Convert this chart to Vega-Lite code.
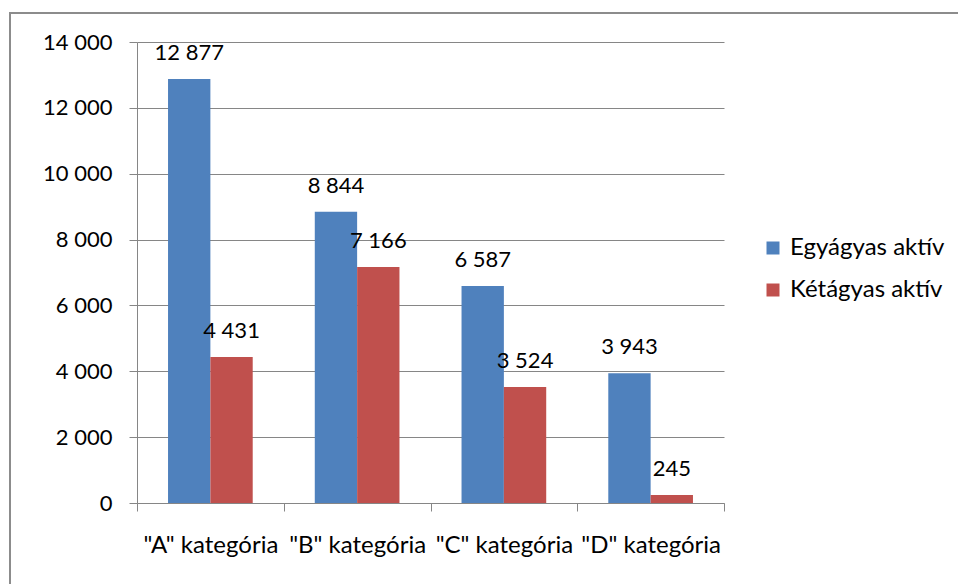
{
  "$schema": "https://vega.github.io/schema/vega-lite/v6.json",
  "width": 949,
  "height": 572,
  "autosize": {"type": "none"},
  "padding": {"left": 10, "top": 13, "right": -1, "bottom": -1},
  "background": "white",
  "config": {
    "locale": {
      "number": {"decimal": ",", "thousands": " ", "grouping": [3], "currency": ["", " Ft"]}
    },
    "font": "Lato",
    "view": {"stroke": "#8c8c8c", "strokeWidth": 2},
    "axis": {
      "domainColor": "#868686",
      "tickColor": "#868686",
      "gridColor": "#868686",
      "labelColor": "#000000",
      "labelFont": "Lato",
      "labelFontSize": 22
    }
  },
  "data": {
    "values": [
      {"kategoria": "\"A\" kategória", "tipus": "Egyágyas aktív", "ertek": 12877},
      {"kategoria": "\"A\" kategória", "tipus": "Kétágyas aktív", "ertek": 4431},
      {"kategoria": "\"B\" kategória", "tipus": "Egyágyas aktív", "ertek": 8844},
      {"kategoria": "\"B\" kategória", "tipus": "Kétágyas aktív", "ertek": 7166},
      {"kategoria": "\"C\" kategória", "tipus": "Egyágyas aktív", "ertek": 6587},
      {"kategoria": "\"C\" kategória", "tipus": "Kétágyas aktív", "ertek": 3524},
      {"kategoria": "\"D\" kategória", "tipus": "Egyágyas aktív", "ertek": 3943},
      {"kategoria": "\"D\" kategória", "tipus": "Kétágyas aktív", "ertek": 245}
    ]
  },
  "encoding": {
    "x": {
      "field": "kategoria",
      "type": "nominal",
      "sort": null,
      "scale": {"range": [127, 714], "paddingInner": 0, "paddingOuter": 0},
      "axis": {
        "title": null,
        "orient": "bottom",
        "offset": -82,
        "tickBand": "extent",
        "tickSize": 8,
        "labelAngle": 0,
        "labelFontSize": 24,
        "labelBaseline": "alphabetic",
        "labelPadding": 41,
        "grid": false
      }
    },
    "xOffset": {
      "field": "tipus",
      "type": "nominal",
      "sort": ["Egyágyas aktív", "Kétágyas aktív"],
      "scale": {"paddingOuter": 0.733, "paddingInner": 0}
    },
    "y": {
      "field": "ertek",
      "type": "quantitative",
      "scale": {"domain": [0, 14000], "range": [490, 29], "nice": false},
      "axis": {
        "title": null,
        "offset": -127,
        "values": [0, 2000, 4000, 6000, 8000, 10000, 12000, 14000],
        "format": ",d",
        "tickSize": 8,
        "labelPadding": 17,
        "grid": true,
        "domain": true
      }
    }
  },
  "layer": [
    {
      "mark": {"type": "bar"},
      "encoding": {
        "color": {
          "field": "tipus",
          "type": "nominal",
          "scale": {"domain": ["Egyágyas aktív", "Kétágyas aktív"], "range": ["#4F81BD", "#C0504D"]},
          "legend": {
            "orient": "none",
            "legendX": 751,
            "legendY": 223,
            "title": null,
            "padding": 0,
            "symbolType": "square",
            "symbolSize": 169,
            "symbolStrokeWidth": 0,
            "labelFont": "Lato",
            "labelFontSize": 24,
            "labelColor": "#000000",
            "labelOffset": 5,
            "rowPadding": 18
          }
        }
      }
    },
    {
      "mark": {"type": "text", "dy": -19, "baseline": "alphabetic", "fontSize": 22, "font": "Lato", "color": "#000000"},
      "encoding": {
        "text": {"field": "ertek", "type": "quantitative", "format": ",d"}
      }
    }
  ]
}
